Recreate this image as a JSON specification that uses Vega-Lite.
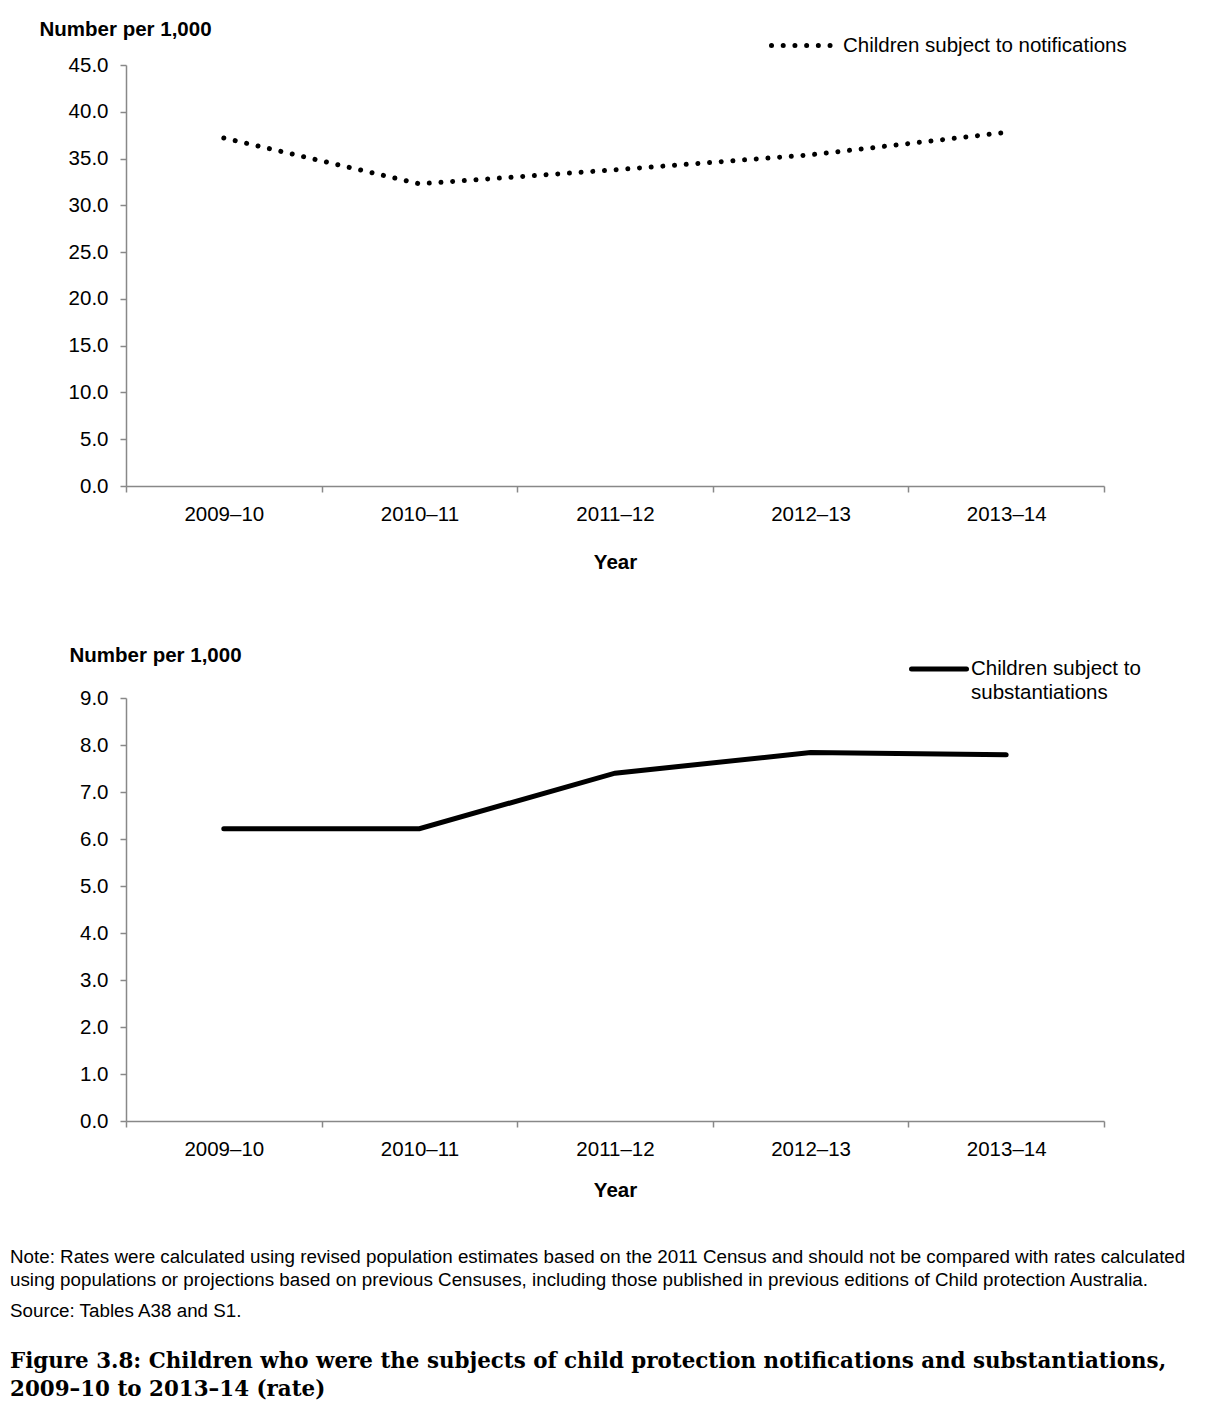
{
  "$schema": "https://vega.github.io/schema/vega-lite/v6.json",
  "background": "white",
  "padding": {"left": 10, "top": 13, "right": 10, "bottom": 10},
  "datasets": {
    "rates": [
      {"series": "Children subject to notifications", "year": "2009–10", "value": 37.2},
      {"series": "Children subject to notifications", "year": "2010–11", "value": 32.3},
      {"series": "Children subject to notifications", "year": "2011–12", "value": 33.8},
      {"series": "Children subject to notifications", "year": "2012–13", "value": 35.4},
      {"series": "Children subject to notifications", "year": "2013–14", "value": 37.8},
      {"series": "Children subject to substantiations", "year": "2009–10", "value": 6.22},
      {"series": "Children subject to substantiations", "year": "2010–11", "value": 6.22},
      {"series": "Children subject to substantiations", "year": "2011–12", "value": 7.4},
      {"series": "Children subject to substantiations", "year": "2012–13", "value": 7.84},
      {"series": "Children subject to substantiations", "year": "2013–14", "value": 7.79}
    ]
  },
  "bounds": "flush",
  "spacing": 212,
  "resolve": {"scale": {"color": "independent", "x": "independent", "y": "independent"}, "legend": {"color": "independent"}},
  "title": {
    "text": ["Figure 3.8: Children who were the subjects of child protection notifications and substantiations,", "2009–10 to 2013–14 (rate)"],
    "orient": "bottom",
    "anchor": "start",
    "frame": "bounds",
    "font": "DejaVu Serif",
    "fontWeight": "bold",
    "fontSize": 21.4,
    "lineHeight": 28,
    "color": "black",
    "offset": 30
  },
  "vconcat": [
    {
      "width": 978,
      "height": 421,
      "data": {"name": "rates"},
      "transform": [{"filter": "datum.series == 'Children subject to notifications'"}],
      "mark": {"type": "line", "interpolate": "linear", "strokeWidth": 5, "strokeDash": [0.01, 11.7], "strokeCap": "round"},
      "encoding": {
        "x": {
          "field": "year", "type": "ordinal", "sort": null, "bandPosition": 0.5,
          "scale": {"type": "band", "paddingInner": 0, "paddingOuter": 0},
          "axis": {"tickBand": "extent", "labelAngle": 0, "title": "Year", "titleY": 76, "titleBaseline": "middle"}
        },
        "y": {
          "field": "value", "type": "quantitative",
          "scale": {"domain": [0, 45]},
          "axis": {"values": [0, 5, 10, 15, 20, 25, 30, 35, 40, 45], "format": ".1f", "title": "Number per 1,000", "titleAngle": 0, "titleAlign": "left", "titleBaseline": "alphabetic", "titleX": -87, "titleY": -30}
        },
        "color": {
          "field": "series", "type": "nominal",
          "scale": {"range": ["black"]},
          "legend": {"orient": "none", "legendX": 643, "legendY": -52, "title": null, "symbolType": "stroke", "symbolSize": 3600, "symbolStrokeWidth": 5, "symbolDash": [0.01, 11.7], "labelOffset": 9, "padding": 0,
            "encoding": {"symbols": {"strokeCap": {"value": "round"}}}}
        }
      }
    },
    {
      "width": 978,
      "height": 423,
      "data": {"name": "rates"},
      "transform": [{"filter": "datum.series == 'Children subject to substantiations'"}],
      "title": {
        "text": ["Note: Rates were calculated using revised population estimates based on the 2011 Census and should not be compared with rates calculated", "using populations or projections based on previous Censuses, including those published in previous editions of Child protection Australia."],
        "subtitle": "Source: Tables A38 and S1.",
        "orient": "bottom",
        "anchor": "start",
        "frame": "group",
        "dx": -116,
        "offset": 47,
        "font": "Liberation Sans",
        "fontWeight": "normal",
        "fontSize": 18.8,
        "lineHeight": 23,
        "color": "black",
        "subtitleFont": "Liberation Sans",
        "subtitleFontSize": 18.8,
        "subtitleColor": "black",
        "subtitlePadding": 13
      },
      "mark": {"type": "line", "strokeWidth": 5, "strokeCap": "round"},
      "encoding": {
        "x": {
          "field": "year", "type": "ordinal", "sort": null, "bandPosition": 0.5,
          "scale": {"type": "band", "paddingInner": 0, "paddingOuter": 0},
          "axis": {"tickBand": "extent", "labelAngle": 0, "title": "Year", "titleY": 69, "titleBaseline": "middle"}
        },
        "y": {
          "field": "value", "type": "quantitative",
          "scale": {"domain": [0, 9]},
          "axis": {"values": [0, 1, 2, 3, 4, 5, 6, 7, 8, 9], "format": ".1f", "title": "Number per 1,000", "titleAngle": 0, "titleAlign": "left", "titleBaseline": "alphabetic", "titleX": -57, "titleY": -37}
        },
        "color": {
          "field": "series", "type": "nominal",
          "scale": {"range": ["black"]},
          "legend": {"orient": "none", "legendX": 783, "legendY": -59, "title": null, "symbolType": "stroke", "symbolSize": 3025, "symbolStrokeWidth": 5, "labelOffset": 2, "padding": 0, "labelBaseline": "middle", "labelExpr": "split(replace(datum.label, 'to ', 'to|'), '|')",
            "encoding": {"symbols": {"strokeCap": {"value": "round"}}, "labels": {"lineHeight": {"value": 24}}}}
        }
      }
    }
  ],
  "config": {
    "font": "Liberation Sans",
    "view": {"stroke": null},
    "axis": {
      "grid": false,
      "domainColor": "#888888",
      "domainWidth": 1.5,
      "tickColor": "#888888",
      "tickWidth": 1.5,
      "tickSize": 6,
      "labelColor": "black",
      "labelFont": "Liberation Sans",
      "labelFontSize": 20.5,
      "labelPadding": 12,
      "titleColor": "black",
      "titleFont": "Liberation Sans",
      "titleFontSize": 20.5,
      "titleFontWeight": "bold"
    },
    "axisX": {"labelPadding": 12},
    "legend": {
      "labelFont": "Liberation Sans",
      "labelFontSize": 20.5,
      "labelColor": "black",
      "labelLimit": 500
    }
  }
}
